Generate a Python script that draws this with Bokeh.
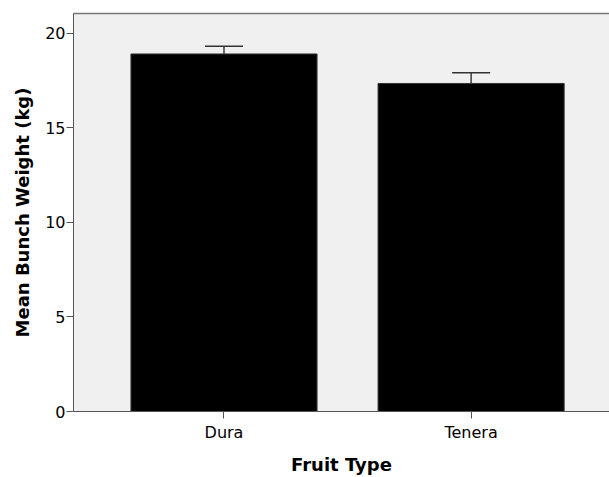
from bokeh.plotting import figure
from bokeh.models import ColumnDataSource, Whisker, TeeHead, FixedTicker, Range1d, LinearAxis
from bokeh.embed import file_html
from bokeh.resources import INLINE

categories = ["Dura", "Tenera"]
mean_weight = [18.91, 17.35]
error = [0.41, 0.56]
y_ticks = [0, 5, 10, 15, 20]

xs = list(range(len(categories)))
src = ColumnDataSource(dict(
    x=xs,
    top=mean_weight,
    upper=[m + e for m, e in zip(mean_weight, error)],
    lower=[m - e for m, e in zip(mean_weight, error)],
))

p = figure(width=609, height=477, output_backend="svg", toolbar_location=None,
           x_range=Range1d(-0.609, 1.560), y_range=Range1d(0, 21.05),
           min_border_left=73, min_border_right=0, min_border_top=13, min_border_bottom=64)
p.background_fill_color = "#f0f0f0"
p.border_fill_color = "white"
p.outline_line_color = None
p.xgrid.visible = False
p.ygrid.visible = False

p.vbar(x="x", top="top", width=0.753, bottom=0, source=src,
       fill_color="black", line_color="#333333", line_width=1)

w = Whisker(base="x", upper="upper", lower="lower", source=src,
            line_color="#222222", line_width=1.3,
            upper_head=TeeHead(size=38, line_color="#333333", line_width=1.5),
            lower_head=TeeHead(size=38, line_color="black", line_width=1.5))
p.add_layout(w)

axis_color = "#555555"
font = "DejaVu Sans"

p.xaxis.ticker = FixedTicker(ticks=xs)
p.xaxis.major_label_overrides = {i: c for i, c in zip(xs, categories)}
p.xaxis.minor_tick_line_color = None
p.xaxis.major_tick_out = 7
p.xaxis.major_tick_in = 0
p.xaxis.major_label_standoff = 4
p.xaxis.axis_line_color = axis_color
p.xaxis.major_tick_line_color = axis_color
p.xaxis.axis_label = "Fruit Type"

p.yaxis.ticker = FixedTicker(ticks=y_ticks)
p.yaxis.minor_tick_line_color = None
p.yaxis.major_tick_out = 7
p.yaxis.major_tick_in = 0
p.yaxis.major_label_standoff = 1
p.yaxis.axis_line_color = axis_color
p.yaxis.major_tick_line_color = axis_color
p.yaxis.axis_label = "Mean Bunch Weight (kg)"

for ax in (p.xaxis, p.yaxis):
    ax.major_label_text_font = font
    ax.major_label_text_font_size = "16px"
    ax.major_label_text_color = "black"
    ax.axis_label_text_font = font
    ax.axis_label_text_font_size = "18px"
    ax.axis_label_text_font_style = "bold"
    ax.axis_label_text_color = "black"
p.xaxis.axis_label_standoff = 9
p.yaxis.axis_label_standoff = 9

top_axis = LinearAxis(axis_line_color="#777777", axis_line_width=1.3,
                      major_tick_line_color=None, minor_tick_line_color=None,
                      major_label_text_font_size="0px", ticker=FixedTicker(ticks=[]))
p.add_layout(top_axis, "above")

open("out.html", "w").write(file_html(p, INLINE))
